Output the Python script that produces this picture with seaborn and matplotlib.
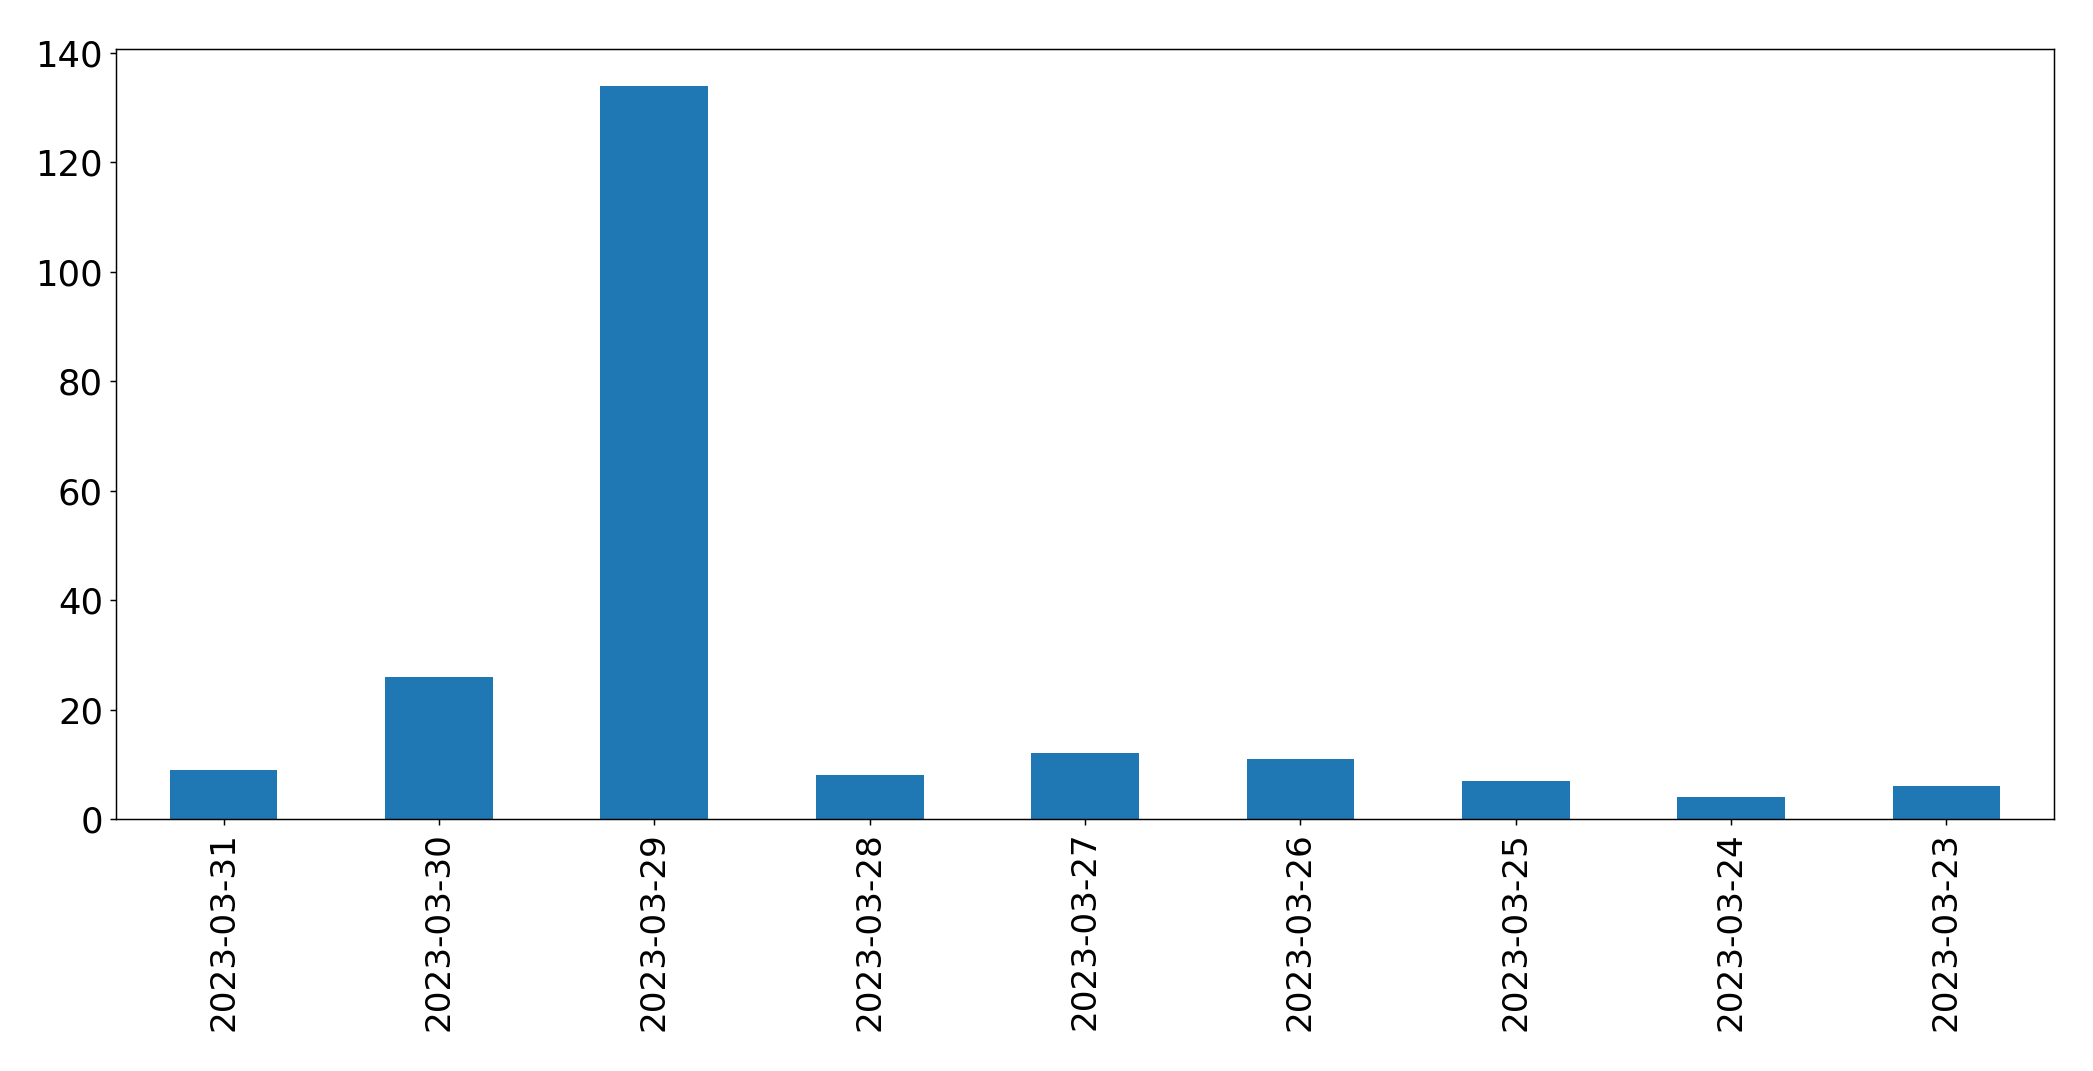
import matplotlib
matplotlib.use("Agg")
import matplotlib.pyplot as plt
import seaborn as sns
import pandas as pd

# daily counts, newest first (as in the original)
dates = ["2023-03-31", "2023-03-30", "2023-03-29", "2023-03-28", "2023-03-27",
         "2023-03-26", "2023-03-25", "2023-03-24", "2023-03-23"]
counts = [9, 26, 134, 8, 12, 11, 7, 4, 6]

df = pd.DataFrame({"date": dates, "count": counts})

dpi = 132
fig, ax = plt.subplots(figsize=(2093 / dpi, 1071 / dpi), dpi=dpi)
fig.subplots_adjust(left=0.0554, right=0.9814, top=0.9542, bottom=0.2353)

sns.barplot(x="date", y="count", data=df, order=dates, color="#1f77b4",
            saturation=1, width=0.5, ax=ax)

ax.set_xlabel("")
ax.set_ylabel("")
ax.set_ylim(0, 134 * 1.05)
ax.set_xlim(-0.5, len(dates) - 0.5)
ax.tick_params(axis="y", labelsize=19.3)
ax.tick_params(axis="x", labelsize=18.7)
plt.xticks(rotation=90)

fig.savefig("out.png", dpi=dpi)
